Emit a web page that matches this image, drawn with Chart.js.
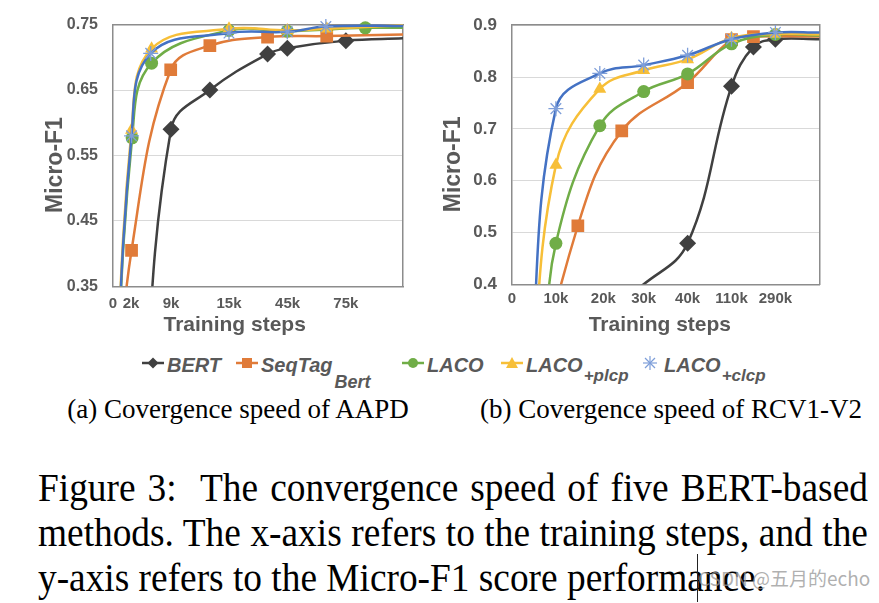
<!DOCTYPE html>
<html>
<head>
<meta charset="utf-8">
<script src="https://cdn.jsdelivr.net/npm/chart.js@4.4.0/dist/chart.umd.min.js"></script>
<style>
  html, body { margin: 0; padding: 0; background: #fff; }
  body { width: 879px; height: 603px; position: relative; overflow: hidden; }
  .wrap { position: absolute; top: 0; height: 345px; }
  #wrapA { left: 40px; width: 372px; }
  #wrapB { left: 440px; width: 387px; }
  .legend { position: absolute; left: 0; top: 353px; width: 879px; height: 40px;
    font: italic bold 20px/24px "Liberation Sans", Arial, sans-serif; color: #595959; }
  .item { position: absolute; top: 0; white-space: nowrap; }
  .item svg { vertical-align: 2px; margin-right: 3px; }
  .item .s1 { font-size: 18px; position: relative; top: 16px; margin-left: 2px; }
  .item .s2 { font-size: 17px; position: relative; top: 9px; margin-left: 1px; }
  .subcap { position: absolute; top: 394px; font: 27px/30px "Liberation Serif", "Times New Roman", serif; color: #000; white-space: nowrap; transform: translateX(-50%); }
  .cap { position: absolute; left: 38px; width: 911px; font: 41px/45px "Liberation Serif", "Times New Roman", serif; color: #000; white-space: nowrap;
    transform: scaleX(0.911); transform-origin: 0 0; }
  .cap.j { text-align: justify; text-align-last: justify; white-space: normal; }
  .mark { position: absolute; left: 698px; top: 566px; font: 19px/24px "Noto Sans CJK SC", "Noto Sans", sans-serif; color: rgba(150,150,150,0.75); white-space: nowrap; }
  .cursor { position: absolute; left: 697px; top: 554px; width: 1px; height: 48px; background: #222; }
</style>
</head>
<body>
<div class="wrap" id="wrapA"><canvas id="chartA" width="372" height="345"></canvas></div>
<div class="wrap" id="wrapB"><canvas id="chartB" width="387" height="345"></canvas></div>

<div class="legend">
  <div class="item" style="left:142px"><svg width="22" height="14"><line x1="0" y1="7" x2="22" y2="7" stroke="#404040" stroke-width="2.5"/><polygon points="11,1.5 16.5,7 11,12.5 5.5,7" fill="#404040"/></svg>BERT</div>
  <div class="item" style="left:236px"><svg width="22" height="14"><line x1="0" y1="7" x2="22" y2="7" stroke="#E07B39" stroke-width="2.5"/><rect x="6" y="2" width="10" height="10" fill="#E07B39"/></svg>SeqTag<span class="s1">Bert</span></div>
  <div class="item" style="left:402px"><svg width="22" height="14"><line x1="0" y1="7" x2="22" y2="7" stroke="#70AD47" stroke-width="2.5"/><circle cx="11" cy="7" r="5" fill="#70AD47"/></svg>LACO</div>
  <div class="item" style="left:501px"><svg width="22" height="14"><line x1="0" y1="7" x2="22" y2="7" stroke="#F7BF38" stroke-width="2.5"/><polygon points="11,1 17,12 5,12" fill="#F7BF38"/></svg>LACO<span class="s2">+plcp</span></div>
  <div class="item" style="left:639px"><svg width="22" height="14"><g stroke="#7E9ED9" stroke-width="1.2"><line x1="4" y1="7" x2="18" y2="7"/><line x1="11" y1="0" x2="11" y2="14"/><line x1="6" y1="2" x2="16" y2="12"/><line x1="16" y1="2" x2="6" y2="12"/></g></svg>LACO<span class="s2">+clcp</span></div>
</div>

<div class="subcap" style="left:238px">(a) Covergence speed of AAPD</div>
<div class="subcap" style="left:671px">(b) Covergence speed of RCV1-V2</div>

<div class="cap j" style="top:465px">Figure 3:&nbsp; The convergence speed of five BERT-based</div>
<div class="cap j" style="top:510px">methods. The x-axis refers to the training steps, and the</div>
<div class="cap" style="top:555px">y-axis refers to the Micro-F1 score performance.</div>
<div class="mark">CSDN @五月的echo</div>
<div class="cursor"></div>

<script>
// (a) AAPD -- x is a position along the axis (0..100), labels are the step counts
const A_X_TICKS = [0, 6.2, 20, 40, 60.2, 80.3];
const A_X_LABELS = ['0', '2k', '9k', '15k', '45k', '75k'];
const A_Y_TICKS = [0.35, 0.45, 0.55, 0.65, 0.75];

const A_BERT_X = [9, 20, 33.4, 53.3, 60.1, 80.3, 100];
const A_BERT_Y = [0.02, 0.590, 0.650, 0.705, 0.714, 0.7255, 0.729];
const A_SEQ_X  = [0, 6.4, 19.9, 33.4, 53.3, 73.7, 100];
const A_SEQ_Y  = [0.12, 0.405, 0.681, 0.718, 0.731, 0.7325, 0.735];
const A_LACO_X = [0, 6.6, 13.3, 40, 60.1, 87, 100];
const A_LACO_Y = [0.1, 0.577, 0.691, 0.741, 0.740, 0.745, 0.745];
const A_PLCP_X = [0, 6.4, 13.3, 40, 60.1, 73.7, 100];
const A_PLCP_Y = [0.1, 0.589, 0.713, 0.7435, 0.741, 0.7435, 0.749];
const A_CLCP_X = [0, 6.4, 13.0, 40, 60.1, 73.4, 100];
const A_CLCP_Y = [0.1, 0.580, 0.706, 0.737, 0.739, 0.747, 0.748];

// (b) RCV1-V2 -- x is a position along the axis (0..7)
const B_X_TICKS = [0, 1, 2.08, 3, 4, 5, 6];
const B_X_LABELS = ['0', '10k', '20k', '30k', '40k', '110k', '290k'];
const B_Y_TICKS = [0.4, 0.5, 0.6, 0.7, 0.8, 0.9];

const B_BERT_X = [1, 2, 3, 4, 5, 5.5, 6, 7];
const B_BERT_Y = [0.2, 0.34, 0.40, 0.479, 0.782, 0.858, 0.873, 0.873];
const B_SEQ_X  = [0, 1.5, 2.5, 4, 5, 5.5, 7];
const B_SEQ_Y  = [0, 0.513, 0.696, 0.789, 0.872, 0.878, 0.878];
const B_LACO_X = [0.75, 1, 2, 3, 4, 5, 6, 7];
const B_LACO_Y = [0.25, 0.479, 0.706, 0.772, 0.806, 0.864, 0.882, 0.880];
const B_PLCP_X = [0.4, 1, 2, 3, 4, 5, 6, 7];
const B_PLCP_Y = [0.15, 0.630, 0.777, 0.813, 0.834, 0.875, 0.883, 0.882];
const B_CLCP_X = [0.4, 1, 2, 3, 4, 5, 6, 7];
const B_CLCP_Y = [0.2, 0.739, 0.807, 0.823, 0.842, 0.873, 0.886, 0.886];

const GREY_TEXT = '#595959';
const AXIS_LINE = '#8c8c8c';
const FONT = '"Liberation Sans", Arial, sans-serif';
const NB = '\u00a0';

const STYLES = {
  bert: { color: '#404040', point: 'rectRot', r: 8.5, order: 5 },
  seq:  { color: '#E07B39', point: 'rect',    r: 9,   order: 4 },
  laco: { color: '#70AD47', point: 'circle',  r: 6.5, order: 3 },
  plcp: { color: '#F7BF38', point: 'triangle', r: 7.5, order: 2 },
  clcp: { color: '#4472C4', point: 'star',    r: 7.5, order: 1, border: '#7E9ED9', bw: 1.3 }
};

function pts(xs, ys) { return xs.map((x, i) => ({ x, y: ys[i] })); }

function dataset(key, label, xs, ys, yMin) {
  const s = STYLES[key];
  return {
    label,
    data: pts(xs, ys),
    order: s.order,
    borderColor: s.color,
    backgroundColor: s.color,
    borderWidth: 2.5,
    tension: 0.4,
    pointStyle: s.point,
    pointBackgroundColor: s.color,
    pointBorderColor: s.border || s.color,
    pointBorderWidth: s.bw || 0,
    // no marker for the point that runs off the edge or below the axis
    pointRadius: c => {
      const d = c.dataset.data, p = d[c.dataIndex];
      return (!p || c.dataIndex === d.length - 1 || p.y <= yMin) ? 0 : s.r;
    },
    clip: { left: 0, top: 12, right: 0, bottom: 0 }
  };
}

function buildChart(id, cfg) {
  const tickFont = { family: FONT, size: 15, weight: 'bold' };
  return new Chart(document.getElementById(id), {
    type: 'line',
    data: { datasets: cfg.datasets },
    options: {
      responsive: false,
      animation: false,
      events: [],
      layout: { padding: { top: cfg.padTop, right: cfg.padRight, left: 0, bottom: 0 } },
      elements: { line: { capBezierPoints: false, borderCapStyle: 'round', borderJoinStyle: 'round' } },
      plugins: { legend: { display: false }, tooltip: { enabled: false } },
      scales: {
        x: {
          type: 'linear', min: 0, max: cfg.xMax,
          afterBuildTicks: s => { s.ticks = cfg.xTicks.map(v => ({ value: v })); },
          afterFit: s => { s.height = cfg.xHeight; },
          ticks: { autoSkip: false, maxRotation: 0, padding: cfg.xTickPad, color: GREY_TEXT, font: tickFont,
                   callback: (v, i) => cfg.xLabels[i] },
          grid: { display: false, drawTicks: false },
          border: { display: true, color: AXIS_LINE, width: 1.5 },
          // trailing spaces nudge the centred title left, as in the original
          title: { display: true, text: 'Training steps' + NB.repeat(cfg.xTitleShift), color: GREY_TEXT,
                   font: { family: FONT, size: 21, weight: 'bold' }, padding: { top: 0, bottom: 7 } }
        },
        y: {
          type: 'linear', min: cfg.yMin, max: cfg.yMax,
          afterBuildTicks: s => { s.ticks = cfg.yTicks.map(v => ({ value: v })); },
          afterFit: s => { s.width = cfg.yWidth; },
          ticks: { padding: 15, color: GREY_TEXT, font: { family: FONT, size: cfg.ySize, weight: 'bold' },
                   callback: v => v.toFixed(cfg.yDec) },
          grid: { color: '#d9d9d9', lineWidth: 1, drawTicks: false },
          border: { display: true, color: AXIS_LINE, width: 1.5 },
          title: { display: true, text: 'Micro-F1' + NB.repeat(3), color: GREY_TEXT,
                   font: { family: FONT, size: 23, weight: 'bold' }, padding: { top: cfg.yTitlePad, bottom: 0 } }
        },
        x2: {
          type: 'linear', position: 'top', min: 0, max: 1,
          afterFit: s => { s.height = 0; },
          ticks: { display: false }, grid: { display: false, drawTicks: false },
          border: { display: true, color: AXIS_LINE, width: 1.5 }
        },
        y2: {
          type: 'linear', position: 'right', min: 0, max: 1,
          afterFit: s => { s.width = 0; },
          ticks: { display: false }, grid: { display: false, drawTicks: false },
          border: { display: true, color: AXIS_LINE, width: 1.5 }
        }
      }
    }
  });
}

buildChart('chartA', {
  xMax: 100, xTicks: A_X_TICKS, xLabels: A_X_LABELS, xHeight: 58.7, xTickPad: 9, xTitleShift: 8,
  yMin: 0.35, yMax: 0.75, yTicks: A_Y_TICKS, yDec: 2, yWidth: 73, ySize: 16, yTitlePad: 2,
  padTop: 20.7, padRight: 9,
  datasets: [
    dataset('bert', 'BERT', A_BERT_X, A_BERT_Y, 0.35),
    dataset('seq', 'SeqTag_Bert', A_SEQ_X, A_SEQ_Y, 0.35),
    dataset('laco', 'LACO', A_LACO_X, A_LACO_Y, 0.35),
    dataset('plcp', 'LACO_+plcp', A_PLCP_X, A_PLCP_Y, 0.35),
    dataset('clcp', 'LACO_+clcp', A_CLCP_X, A_CLCP_Y, 0.35)
  ]
});

buildChart('chartB', {
  xMax: 7, xTicks: B_X_TICKS, xLabels: B_X_LABELS, xHeight: 60.7, xTickPad: 6, xTitleShift: 2,
  yMin: 0.4, yMax: 0.9, yTicks: B_Y_TICKS, yDec: 1, yWidth: 72, ySize: 17, yTitlePad: 0,
  padTop: 21, padRight: 7.7,
  datasets: [
    dataset('bert', 'BERT', B_BERT_X, B_BERT_Y, 0.4),
    dataset('seq', 'SeqTag_Bert', B_SEQ_X, B_SEQ_Y, 0.4),
    dataset('laco', 'LACO', B_LACO_X, B_LACO_Y, 0.4),
    dataset('plcp', 'LACO_+plcp', B_PLCP_X, B_PLCP_Y, 0.4),
    dataset('clcp', 'LACO_+clcp', B_CLCP_X, B_CLCP_Y, 0.4)
  ]
});
</script>
</body>
</html>
